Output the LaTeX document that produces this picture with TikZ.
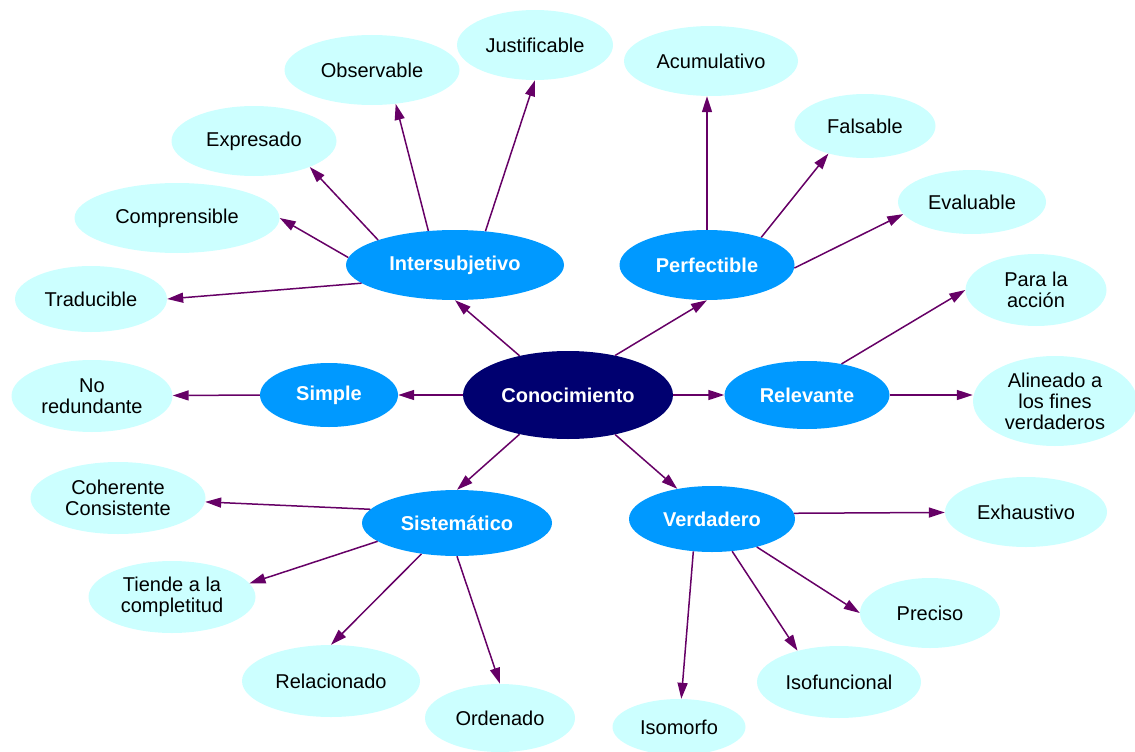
\documentclass[tikz,border=0pt]{standalone}
\usepackage{fontspec}
\setmainfont{Liberation Sans}
\usepackage{tikz}
\usetikzlibrary{positioning}
\usetikzlibrary{shapes,shapes.geometric,arrows.meta}
\definecolor{navyroot}{HTML}{000070}
\definecolor{bluemid}{HTML}{0099FF}
\definecolor{cyanleaf}{HTML}{CCFFFF}
\definecolor{purpedge}{HTML}{660066}
\tikzstyle{root} = [ellipse, fill=navyroot, text=white, inner sep=0pt, text centered, font=\fontsize{20}{21}\selectfont\bfseries, minimum width=210pt, minimum height=88pt]
\tikzstyle{branch} = [ellipse, fill=bluemid, text=white, inner sep=0pt, text centered, font=\fontsize{20}{21}\selectfont\bfseries, minimum height=68pt]
\tikzstyle{leaf} = [ellipse, fill=cyanleaf, text=black, inner sep=0pt, align=center, font=\fontsize{20}{21}\selectfont, minimum height=70pt]
\tikzstyle{edge} = [draw=purpedge, line width=1.5pt, -{Triangle[length=16pt,width=10pt]}]

\begin{document}
\begin{tikzpicture}[x=1pt, y=-1pt]
	\useasboundingbox (0,0) rectangle (1135,752);
	% center and branches
	\node [root] (con) at (568,395) {Conocimiento};
	\node [branch, minimum width=218pt, minimum height=70pt] (inter) at (455,265) {Intersubjetivo};
	\node [branch, minimum width=175pt, minimum height=70pt] (perf) at (707,265) {Perfectible};
	\node [branch, minimum width=138pt, minimum height=64pt] (simp) at (329,395) {Simple};
	\node [branch, minimum width=165pt] (rel) at (807,395) {Relevante};
	\node [branch, minimum width=190pt, minimum height=66pt] (sist) at (457,523) {Sistemático};
	\node [branch, minimum width=166pt, minimum height=66pt] (verd) at (712,519) {Verdadero};

	% leaves
	\node [leaf, minimum width=156pt] (just) at (535,45) {Justificable};
	\node [leaf, minimum width=175pt] (obs) at (372,70) {Observable};
	\node [leaf, minimum width=165pt] (expr) at (254,141) {Expresado};
	\node [leaf, minimum width=205pt] (compr) at (177,218) {Comprensible};
	\node [leaf, minimum width=152pt, minimum height=66pt] (trad) at (91,299) {Traducible};
	\node [leaf, minimum width=161pt, minimum height=72pt] (nored) at (92,396) {No\\redundante};
	\node [leaf, minimum width=175pt, minimum height=72pt] (coh) at (118,498) {Coherente\\Consistente};
	\node [leaf, minimum width=167pt, minimum height=72pt] (tiende) at (172,597) {Tiende a la\\completitud};
	\node [leaf, minimum width=178pt, minimum height=72pt] (relac) at (331,681) {Relacionado};
	\node [leaf, minimum width=150pt, minimum height=68pt] (ord) at (500,718) {Ordenado};
	\node [leaf, minimum width=133pt, minimum height=56pt] (isom) at (679,727) {Isomorfo};
	\node [leaf, minimum width=164pt, minimum height=72pt] (isof) at (839,682) {Isofuncional};
	\node [leaf, minimum width=140pt] (prec) at (930,613) {Preciso};
	\node [leaf, minimum width=162pt] (exh) at (1026,512) {Exhaustivo};
	\node [leaf, minimum width=164pt, minimum height=90pt] (alin) at (1055,401) {Alineado a\\los fines\\verdaderos};
	\node [leaf, minimum width=141pt, minimum height=72pt] (para) at (1036,290) {Para la\\acción};
	\node [leaf, minimum width=148pt, minimum height=64pt] (eval) at (972,202) {Evaluable};
	\node [leaf, minimum width=141pt, minimum height=64pt] (fals) at (865,126) {Falsable};
	\node [leaf, minimum width=174pt] (acum) at (711,61) {Acumulativo};

	% draw edges
	\path [edge] (con.141) -- (inter.south);
	\path [edge] (con.40) -- (perf.south);
	\path [edge] (con.west) -- (simp);
	\path [edge] (con.east) -- (rel);
	\path [edge] (con.219) -- (sist.north);
	\path [edge] (con.320) -- (verd.139);
	\path [edge] (inter.48) -- (just.south);
	\path [edge] (inter.128) -- (obs.305);
	\path [edge] (inter.162) -- (expr.335);
	\path [edge] (inter.176) -- (compr.east);
	\path [edge] (inter.191) -- (trad.east);
	\path [edge] (perf.north) -- (perf.north |- acum.south);
	\path [edge] (perf.27) -- (fals.217);
	\path [edge] (perf.-2) -- (eval.190);
	\path [edge] (rel.42) -- (para.west);
	\path [edge] (rel.east) -- (rel.east -| alin.west);
	\path [edge] (simp.west) -- (nored);
	\path [edge] (sist.171) -- (coh);
	\path [edge] (sist.193) -- (tiende.10);
	\path [edge] (sist.221) -- (relac.north);
	\path [edge] (sist.south) -- (ord.north);
	\path [edge] (verd.4) -- (exh);
	\path [edge] (verd.328) -- (prec.west);
	\path [edge] (verd.302) -- (isof.143);
	\path [edge] (verd.240) -- (isom);
\end{tikzpicture}
\end{document}
